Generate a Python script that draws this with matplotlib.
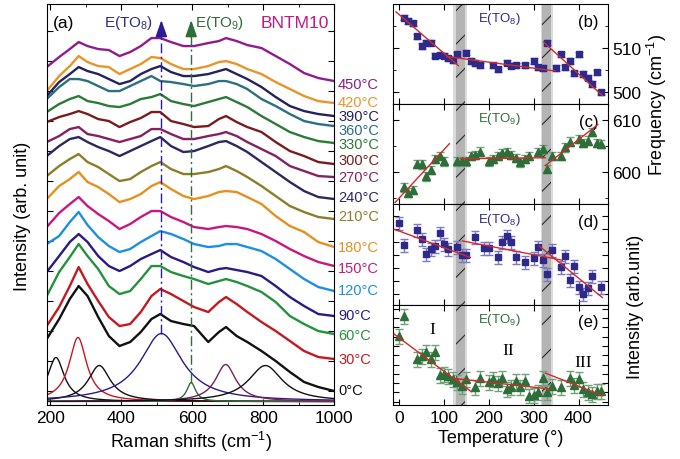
import matplotlib
matplotlib.use('Agg')
import matplotlib.pyplot as plt
import matplotlib.transforms as mtransforms
from matplotlib.ticker import MultipleLocator, FixedLocator
import numpy as np

plt.rcParams['font.family'] = ['Liberation Sans', 'DejaVu Sans']
plt.rcParams['mathtext.fontset'] = 'custom'
plt.rcParams['mathtext.rm'] = 'Liberation Sans'
plt.rcParams['mathtext.it'] = 'Liberation Sans:italic'
plt.rcParams['mathtext.bf'] = 'Liberation Sans:bold'
plt.rcParams['hatch.linewidth'] = 0.8

# ---------------- data: Raman spectra (panel a) ----------------
wavenumber = [190, 225, 255, 280, 305, 335, 365, 395, 425, 455, 485, 510, 540,
              575, 605, 645, 675, 695, 725, 755, 795, 835, 875, 915, 955, 1000]
temperatures = [0, 30, 60, 90, 120, 150, 180, 210, 240, 270, 300, 330, 360, 390, 420, 450]
spec_0 = [64, 84, 104, 117, 107, 86, 67, 57, 61, 71, 84, 89, 82, 79, 77, 61, 71, 76, 67, 61, 52, 42, 31, 21, 16, 12]
spec_30 = [77, 96, 117, 136, 119, 102, 86, 77, 79, 91, 107, 114, 109, 102, 96, 91, 101, 106, 99, 91, 81, 72, 62, 52, 46, 44]
spec_60 = [107, 131, 146, 159, 147, 134, 117, 109, 112, 124, 137, 137, 131, 127, 124, 119, 122, 124, 121, 117, 111, 101, 87, 79, 72, 69]
spec_90 = [131, 147, 161, 169, 161, 147, 137, 132, 137, 144, 149, 153, 146, 141, 136, 131, 134, 135, 133, 131, 127, 117, 106, 97, 89, 87]
spec_120 = [159, 167, 181, 191, 178, 166, 157, 151, 154, 161, 167, 172, 169, 164, 159, 156, 157, 159, 159, 156, 152, 144, 134, 124, 116, 112]
spec_150 = [176, 190, 199, 206, 197, 189, 182, 174, 179, 186, 192, 192, 186, 181, 176, 174, 176, 177, 176, 174, 169, 162, 154, 147, 141, 137]
spec_180 = [204, 217, 224, 231, 221, 216, 209, 201, 204, 209, 217, 221, 214, 207, 204, 207, 211, 212, 211, 206, 199, 187, 177, 171, 161, 156]
spec_210 = [227, 237, 244, 249, 241, 236, 229, 222, 224, 231, 237, 241, 234, 229, 229, 231, 234, 237, 232, 226, 217, 207, 197, 191, 186, 184]
spec_240 = [247, 257, 264, 266, 261, 256, 252, 247, 252, 257, 262, 266, 257, 251, 252, 257, 261, 262, 257, 251, 241, 231, 221, 212, 206, 204]
spec_270 = [261, 267, 274, 276, 269, 267, 264, 261, 264, 267, 274, 274, 269, 264, 264, 267, 269, 271, 267, 261, 254, 247, 237, 232, 227, 226]
spec_300 = [281, 286, 289, 292, 289, 284, 282, 276, 281, 285, 291, 291, 282, 279, 276, 277, 284, 287, 281, 276, 271, 261, 252, 247, 241, 239]
spec_330 = [291, 299, 304, 307, 302, 300, 297, 296, 299, 304, 306, 309, 302, 299, 297, 301, 304, 306, 301, 296, 287, 279, 271, 266, 262, 260]
spec_360 = [304, 316, 324, 324, 322, 317, 312, 312, 317, 322, 327, 322, 321, 319, 317, 319, 322, 322, 319, 314, 304, 297, 289, 282, 279, 277]
spec_390 = [307, 321, 329, 336, 332, 329, 324, 319, 322, 329, 334, 337, 331, 327, 327, 329, 332, 334, 329, 324, 316, 306, 297, 292, 289, 287]
spec_420 = [312, 327, 337, 347, 341, 337, 336, 329, 334, 339, 346, 345, 339, 334, 334, 337, 341, 342, 339, 334, 329, 321, 314, 307, 302, 300]
spec_450 = [336, 346, 354, 361, 357, 354, 353, 347, 351, 357, 365, 365, 361, 357, 357, 360, 362, 365, 362, 358, 355, 347, 339, 330, 325, 322]
spectra = [spec_0, spec_30, spec_60, spec_90, spec_120, spec_150, spec_180, spec_210,
           spec_240, spec_270, spec_300, spec_330, spec_360, spec_390, spec_420, spec_450]
spec_colors = ['#111111', '#C3191F', '#24913C', '#2B1A84', '#1C8FE0', '#C8187F',
               '#E59020', '#8C7D28', '#2A285E', '#862062', '#7A1C1E', '#2C7A36',
               '#2C6F7E', '#24225E', '#E8952A', '#8E1C8C']
# vertical placement of the temperature labels (same units as the spectra)
label_y = [13, 44, 68, 88, 113, 135, 156, 187, 206, 226, 243, 259, 273, 287, 301.5, 319]

# Lorentzian fit components of the 0 C spectrum
comp_center = [216, 278, 338, 513, 597, 694, 806]
comp_hwhm = [28, 30, 38, 72, 15, 35, 58]
comp_amp = [44, 64, 36, 68, 19, 37, 36]
comp_colors = ['#111111', '#C3191F', '#111111', '#2B1A84', '#2C6E38', '#7A2060', '#111111']
comp_base = 1.5

# ---------------- data: temperature dependence (b)-(e) ----------------
b_T = [10, 20, 30, 40, 50, 60, 70, 80, 90, 100, 110, 120, 130, 150, 160, 170, 180, 210, 220,
       240, 250, 260, 280, 300, 310, 320, 330, 350, 360, 370, 380, 390, 400, 410, 420, 430, 440, 450]
b_freq = [517.0, 516.2, 515.7, 512.7, 510.5, 511.3, 511.3, 508.3, 508.4, 508.3, 507.7, 507.3, 508.6,
          509.0, 507.1, 506.6, 506.1, 506.1, 505.2, 506.7, 506.0, 506.1, 506.1, 507.1, 505.6, 505.5,
          511.3, 505.5, 508.6, 505.6, 507.1, 504.3, 508.6, 504.1, 503.3, 501.8, 504.5, 499.9]
b_err = 0.6
b_fits = [([-7, 132], [518.3, 506.0]), ([106, 347], [508.1, 504.8]), ([322, 453], [511.4, 499.2])]

c_T = [10, 20, 30, 40, 50, 60, 70, 80, 90, 100, 130, 140, 150, 160, 170, 180, 200, 210, 220, 230,
       240, 250, 260, 270, 280, 290, 310, 320, 330, 340, 360, 370, 380, 400, 410, 420, 430, 440, 450]
c_freq = [597.1, 596.1, 596.6, 601.6, 601.5, 599.2, 600.5, 602.6, 603.1, 602.1, 602.1, 602.2, 602.1,
          603.2, 603.3, 604.0, 602.1, 602.6, 603.2, 603.7, 603.9, 603.3, 602.7, 601.9, 602.6, 603.1,
          603.9, 604.4, 600.6, 603.1, 603.2, 604.8, 605.9, 606.4, 605.7, 606.1, 607.7, 605.7, 605.5]
c_err = 0.8
c_fits = [([-9, 112], [594.2, 605.5]), ([136, 326], [602.6, 602.8]), ([326, 443], [601.3, 609.2])]

d_T = [0, 10, 40, 50, 60, 70, 80, 90, 100, 110, 130, 140, 150, 170, 190, 200, 220, 230, 240, 250,
       260, 280, 300, 310, 320, 330, 340, 360, 370, 380, 390, 400, 410, 420, 430, 450]
d_int = [8.1, 5.9, 7.4, 6.5, 5.0, 5.5, 5.8, 7.1, 6.0, 5.5, 5.7, 4.9, 4.9, 6.7, 5.6, 5.6, 4.7, 6.2,
         6.8, 6.2, 4.7, 4.2, 4.6, 5.7, 4.4, 3.0, 5.4, 3.7, 4.8, 2.4, 3.8, 1.7, 1.0, 1.6, 2.8, 1.7]
d_err = 0.65
d_fits = [([-11, 159], [7.5, 4.67]), ([141, 364], [6.33, 4.4]), ([312, 453], [5.83, 0.67])]

e_T = [0, 10, 40, 50, 60, 70, 80, 90, 100, 110, 120, 130, 140, 150, 170, 180, 200, 210, 220, 230,
       240, 250, 260, 270, 280, 290, 300, 310, 320, 330, 340, 360, 380, 390, 400, 410, 420, 430, 440, 450]
e_int = [6.9, 8.9, 4.6, 4.9, 5.3, 4.6, 5.3, 3.0, 3.1, 2.9, 2.6, 2.3, 1.9, 2.6, 1.8, 2.7, 2.3, 2.6,
         2.2, 2.7, 1.6, 1.8, 2.4, 1.8, 2.4, 0.9, 1.0, 1.3, 2.7, 1.3, 1.9, 1.8, 2.7, 2.0, 2.6, 1.6,
         1.3, 1.1, 1.4, 1.4]
e_err = 0.75
e_fits = [([-11, 161], [7.1, 1.33]), ([122, 336], [2.67, 1.6]), ([326, 454], [3.2, 0.93])]

band_outer = [(120.2, 151.4), (315.4, 342.8)]
band_inner = [(126.2, 146.2), (318.4, 339.2)]

# ---------------- figure ----------------
fig = plt.figure(figsize=(6.8, 4.6), dpi=100)
NAVY = '#2E2A8C'
GREEN = '#2E6E38'
RED = '#D22A2A'

ax = fig.add_axes([0.0687, 0.118, 0.4229, 0.871])
for spec, col in zip(spectra, spec_colors):
    ax.plot(wavenumber, spec, color=col, lw=1.7, solid_joinstyle='round')

wgrid = np.linspace(190, 1000, 900)
comp_peak = {}
for c0, g, a, col in zip(comp_center, comp_hwhm, comp_amp, comp_colors):
    yv = comp_base + a / (1 + ((wgrid - c0) / g) ** 2)
    ax.plot(wgrid, yv, color=col, lw=1.0)
    comp_peak[c0] = comp_base + a

# vertical mode markers
top_y = 370
ax.plot([513, 513], [comp_peak[513], top_y], color='#2B1A9A', lw=1.0,
        ls=(0, (7, 2.5, 1.5, 2.5)))
ax.plot([597, 597], [comp_peak[597], top_y], color=GREEN, lw=1.0,
        ls=(0, (7, 2.5, 1.5, 2.5)))
for xpos, col in [(513, '#2B1A9A'), (597, GREEN)]:
    ax.annotate('', xy=(xpos, 383), xytext=(xpos, 366),
                arrowprops=dict(arrowstyle='-|>,head_length=1.0,head_width=0.35',
                                color=col, lw=1.2, shrinkA=0, shrinkB=0))
ax.text(489, 381, 'E(TO$_8$)', color=NAVY, fontsize=11, ha='right', va='center')
ax.text(609, 381, 'E(TO$_9$)', color=GREEN, fontsize=11, ha='left', va='center')
ax.text(0.022, 0.954, '(a)', transform=ax.transAxes, fontsize=12.5, ha='left', va='center')
ax.text(0.862, 0.954, 'BNTM10', transform=ax.transAxes, fontsize=12.5, ha='center',
        va='center', color='#C2187F')

trans = mtransforms.blended_transform_factory(ax.transAxes, ax.transData)
for t, ly, col in zip(temperatures, label_y, spec_colors):
    ax.text(1.013, ly, f'{t}\u00b0C', transform=trans, color=col, fontsize=10.5,
            ha='left', va='center')

ax.set_xlim(190, 1000)
ax.set_ylim(-1.7, 399)
ax.xaxis.set_major_locator(MultipleLocator(200))
ax.xaxis.set_minor_locator(MultipleLocator(100))
ax.set_yticks(np.arange(12, 399, 30))
ax.set_yticklabels([])
ax.tick_params(which='both', direction='in', top=True, right=True, labelsize=12.5)
ax.tick_params(which='major', length=4)
ax.tick_params(which='minor', length=2.5)
ax.set_xlabel('Raman shifts (cm$^{-1}$)', fontsize=13, labelpad=3)
fig.text(23 / 680, 1 - 216 / 460, 'Intensity (arb. unit)', rotation=90, fontsize=13,
         ha='center', va='center')

# right panels
h = 100.25 / 460
bottoms = [0.1174 + 3 * h, 0.1174 + 2 * h, 0.1174 + h, 0.1174]
axes = [fig.add_axes([0.5784, bt, 0.3153, h]) for bt in bottoms]
panel_data = [
    (b_T, b_freq, b_err, b_fits, 's', NAVY, '#7F79BE', 'E(TO$_8$)', '(b)'),
    (c_T, c_freq, c_err, c_fits, '^', GREEN, '#72A078', 'E(TO$_9$)', '(c)'),
    (d_T, d_int, d_err, d_fits, 's', NAVY, '#7F79BE', 'E(TO$_8$)', '(d)'),
    (e_T, e_int, e_err, e_fits, '^', GREEN, '#72A078', 'E(TO$_9$)', '(e)'),
]
ylims = [(497.2, 520.1), (593.8, 613.1), (-0.05, 9.97), (0, 10.05)]
for i, (a, pdat, yl) in enumerate(zip(axes, panel_data, ylims)):
    T, val, err, fits, mk, col, ecol, lab, tag = pdat
    for (x0, x1) in band_outer:
        a.axvspan(x0, x1, facecolor='#dadada', lw=0, zorder=0)
    for (x0, x1) in band_inner:
        a.axvspan(x0, x1, facecolor='#b4b4b4', edgecolor='#2a2a2a', hatch='/', lw=0, zorder=0.5)
    a.errorbar(T, val, yerr=err, fmt=mk, ms=5 if mk == 's' else 6, color=col, ecolor=ecol,
               elinewidth=1.0, capsize=3, capthick=1.0, zorder=3)
    for fx, fy in fits:
        a.plot(fx, fy, color=RED, lw=1.0, zorder=4)
    a.set_xlim(-13, 465)
    a.set_ylim(*yl)
    a.text(224, 0.86, lab, transform=mtransforms.blended_transform_factory(a.transData, a.transAxes),
           color=col, fontsize=9.5, ha='center', va='center')
    a.text(0.91, 0.83, tag, transform=a.transAxes, fontsize=12, ha='center', va='center')
    a.xaxis.set_major_locator(MultipleLocator(100))
    a.tick_params(which='both', direction='in', top=True, right=True, left=True,
                  labelleft=False, labelright=(i < 2), labelbottom=(i == 3), labelsize=12.5)
    a.tick_params(which='major', length=4)
    a.tick_params(which='minor', length=2.5)

axes[0].yaxis.set_major_locator(FixedLocator([500, 510]))
axes[0].yaxis.set_minor_locator(FixedLocator([505, 515]))
axes[1].yaxis.set_major_locator(FixedLocator([600, 610]))
axes[1].yaxis.set_minor_locator(FixedLocator([595, 605]))
axes[2].set_yticks(np.arange(1.07, 9.97, 1.29))
axes[3].set_yticks(np.arange(0.33, 10.0, 0.93))
axes[3].set_xlabel('Temperature (\u00b0)', fontsize=13, labelpad=3)

for txt, tx, ty in [('I', 73, 7.6), ('II', 243, 5.5), ('III', 410, 4.27)]:
    axes[3].text(tx, ty, txt, family=['Liberation Serif', 'DejaVu Serif'], fontsize=12.5,
                 ha='center', va='center')

fig.text(657 / 680, 1 - 105 / 460, 'Frequency (cm$^{-1}$)', rotation=90, fontsize=13,
         ha='center', va='center')
fig.text(635 / 680, 1 - 307 / 460, 'Intensity (arb.unit)', rotation=90, fontsize=13,
         ha='center', va='center')

fig.savefig('out.png', dpi=100)
